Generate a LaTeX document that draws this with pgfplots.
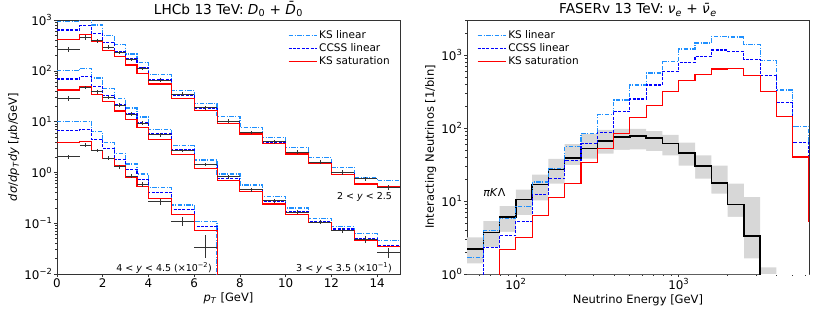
\documentclass[border=0pt]{standalone}
\usepackage{fontspec}
\setmainfont{DejaVu Sans}
\usepackage{pgfplots}
\pgfplotsset{compat=1.18}
\definecolor{ksblue}{RGB}{30,144,255}
\definecolor{ccssblue}{RGB}{0,0,255}
\definecolor{sred}{RGB}{255,0,0}
\definecolor{bandgray}{RGB}{215,215,215}
\tikzset{
  kslin/.style={draw=ksblue, color=ksblue, line width=1.2pt, dash pattern=on 4.5pt off 1.5pt on 1pt off 1.5pt},
  ccss/.style={draw=ccssblue, color=ccssblue, line width=1.1pt, dash pattern=on 3pt off 1.4pt},
  ksat/.style={draw=sred, color=sred, line width=1.1pt},
}
\pgfplotsset{
  every axis/.append style={
    axis line style={black!80, line width=0.8pt},
    tick style={black!80, line width=0.6pt},
    tick align=outside,
    xtick pos=bottom, ytick pos=left,
    major tick length=3pt, minor tick length=1.8pt,
    tick label style={font=\fontsize{11.9}{14}\selectfont, inner sep=1.5pt},
    label style={font=\fontsize{11.5}{14}\selectfont},
    title style={font=\fontsize{13.7}{16}\selectfont, anchor=base},
    legend cell align=left,
    legend image code/.code={\draw[#1] (0pt,0pt) -- (28pt,0pt);},
  }
}
\begin{document}
\begin{tikzpicture}
\path[use as bounding box] (0pt,0pt) rectangle (822pt,308pt);
% ---------------- LEFT ----------------
\begin{axis}[at={(57pt,34pt)}, anchor=south west, scale only axis,
  width=343pt, height=254pt,
  ymode=log, xmin=0, xmax=15, ymin=1e-2, ymax=1e3,
  xtick={0,2,4,6,8,10,12,14}, xticklabels={0,2,4,6,8,10,12,14},
  ytick={1e-2,1e-1,1,10,100,1000},
  yticklabels={10\textsuperscript{−2},10\textsuperscript{−1},10\textsuperscript{0},10\textsuperscript{1},10\textsuperscript{2},10\textsuperscript{3}},
  minor ytick={2e-2,3e-2,4e-2,5e-2,6e-2,7e-2,8e-2,9e-2,0.2,0.3,0.4,0.5,0.6,0.7,0.8,0.9,2,3,4,5,6,7,8,9,20,30,40,50,60,70,80,90,200,300,400,500,600,700,800,900},
  title={LHCb 13 TeV: \textit{D}\textsubscript{0} + \textit{D̄}\textsubscript{0}},
  xlabel={\textit{p}\textsubscript{\textit{T}} [GeV]},
  ylabel={\textit{dσ}/\textit{dp}\textsubscript{\textit{T}}\textit{dy} [\textit{μ}b/GeV]},
  legend style={draw=none, fill=none, at={(0.985,0.975)}, anchor=north east,
    font=\fontsize{10.5}{12}\selectfont, row sep=-0.5pt},
]
% group 1 : 2<y<2.5
\addplot[kslin, const plot] coordinates {(0,950)(1,1050)(1.5,797)(2,500)(2.5,325)(3,215)(3.5,145)(4,84)(5,40.6)(6,22.9)(7,12.5)(8,7.6)(9,4.95)(10,3.06)(11,1.98)(12,1.26)(13,0.78)(14,0.69)(15,0.69)};
\addlegendentry{KS linear}
\addplot[ccss, const plot] coordinates {(0,635)(1,773)(1.5,547)(2,364)(2.5,238)(3,176)(3.5,117)(4,66)(5,33.4)(6,18.3)(7,9.96)(8,6.05)(9,3.85)(10,2.45)(11,1.55)(12,0.98)(13,0.6)(14,0.53)(15,0.53)};
\addlegendentry{CCSS linear}
\addplot[ksat, const plot] coordinates {(0,410)(1,523)(1.5,386)(2,256)(2.5,190)(3,130)(3.5,89)(4,55)(5,28.8)(6,16.4)(7,9.25)(8,5.7)(9,3.7)(10,2.3)(11,1.47)(12,0.92)(13,0.59)(14,0.53)(15,0.53)};
\addlegendentry{KS saturation}
% group 2 : 3<y<3.5 (x0.1)
\addplot[kslin, const plot, forget plot] coordinates {(0,102)(1,112)(1.5,72)(2,45)(2.5,28)(3,18.5)(3.5,12.3)(4,7.05)(5,3.36)(6,1.75)(7,0.93)(8,0.565)(9,0.335)(10,0.2)(11,0.125)(12,0.085)(13,0.063)(14,0.045)(15,0.045)};
\addplot[ccss, const plot, forget plot] coordinates {(0,69)(1,77)(1.5,50)(2,33)(2.5,22)(3,14.5)(3.5,9.5)(4,5.7)(5,2.76)(6,1.46)(7,0.77)(8,0.46)(9,0.265)(10,0.167)(11,0.107)(12,0.077)(13,0.05)(14,0.036)(15,0.036)};
\addplot[ksat, const plot, forget plot] coordinates {(0,41.9)(1,48)(1.5,34.3)(2,24.5)(2.5,16.2)(3,11.1)(3.5,7.6)(4,4.5)(5,2.28)(6,1.21)(7,0.68)(8,0.42)(9,0.239)(10,0.15)(11,0.102)(12,0.073)(13,0.046)(14,0.035)(15,0.035)};
% group 3 : 4<y<4.5 (x0.01)
\addplot[kslin, const plot, forget plot] coordinates {(0,10)(1,10)(1.5,6.3)(2,3.85)(2.5,2.38)(3,1.46)(3.5,0.93)(4,0.5)(5,0.228)(6,0.108)(7,0.0001)(7.01,0.0001)};
\addplot[ccss, const plot, forget plot] coordinates {(0,6.6)(1,7.0)(1.5,4.5)(2,3.0)(2.5,1.8)(3,1.15)(3.5,0.72)(4,0.41)(5,0.185)(6,0.087)(7,0.0001)(7.01,0.0001)};
\addplot[ksat, const plot, forget plot] coordinates {(0,3.9)(1,4.1)(1.5,2.75)(2,1.9)(2.5,1.35)(3,0.8)(3.5,0.53)(4,0.31)(5,0.147)(6,0.073)(7,0.0001)(7.01,0.0001)};
% data
\addplot[draw=none, mark=none, forget plot,
  error bars/.cd, x dir=both, x explicit, y dir=both, y explicit,
  error bar style={draw=black!80, line width=0.8pt, solid}, error mark=none]
  table[x=x, y=y, x error=ex, y error=ey, row sep=\\] {
  x y ex ey \\
  0.5 260 0.5 30 \\ 1.25 452 0.25 45 \\ 1.75 395 0.25 35 \\ 2.25 295 0.25 25 \\
  2.75 231 0.25 18 \\ 3.25 166 0.25 13 \\ 3.75 112 0.25 9 \\ 4.5 66 0.5 5 \\
  5.5 35 0.5 2.8 \\ 6.5 18.8 0.5 1.5 \\ 7.5 10.3 0.5 0.8 \\ 8.5 6.1 0.5 0.5 \\
  9.5 4.05 0.5 0.35 \\ 10.5 2.52 0.5 0.22 \\ 11.5 1.6 0.5 0.14 \\ 12.5 1.0 0.5 0.1 \\
  13.5 0.75 0.5 0.08 \\ 14.5 0.51 0.5 0.06 \\
  0.5 28.8 0.5 3 \\ 1.25 47 0.25 4 \\ 1.75 38.5 0.25 3.2 \\ 2.25 30 0.25 2.5 \\
  2.75 21 0.25 1.8 \\ 3.25 14 0.25 1.2 \\ 3.75 9.4 0.25 0.9 \\ 4.5 5.5 0.5 0.45 \\
  5.5 2.7 0.5 0.22 \\ 6.5 1.44 0.5 0.12 \\ 7.5 0.82 0.5 0.07 \\ 8.5 0.46 0.5 0.04 \\
  9.5 0.275 0.5 0.025 \\ 10.5 0.164 0.5 0.015 \\ 11.5 0.106 0.5 0.011 \\ 12.5 0.073 0.5 0.008 \\
  13.5 0.048 0.5 0.007 \\ 14.5 0.027 0.5 0.006 \\
  0.5 2.04 0.5 0.2 \\ 1.25 3.46 0.25 0.3 \\ 1.75 2.7 0.25 0.22 \\ 2.25 1.92 0.25 0.16 \\
  2.75 1.3 0.25 0.11 \\ 3.25 0.85 0.25 0.08 \\ 3.75 0.58 0.25 0.06 \\ 4.5 0.265 0.5 0.035 \\
  5.5 0.11 0.5 0.02 \\
};
\addplot[draw=none, mark=none, forget plot,
  error bars/.cd, x dir=both, x explicit, y dir=both, y explicit,
  error bar style={draw=black!80, line width=0.8pt, solid}, error mark=none]
  table[x=x, y=y, x error=ex, y error plus=ep, y error minus=em, row sep=\\] {
  x y ex ep em \\
  6.5 0.0335 0.5 0.024 0.013 \\
};
\node[anchor=east, font=\fontsize{9.5}{11}\selectfont] at (axis cs:14.8,0.33) {2 < \textit{y} < 2.5};
\node[anchor=east, font=\fontsize{9.5}{11}\selectfont] at (axis cs:6.93,0.0129) {4 < \textit{y} < 4.5 (×10\textsuperscript{−2})};
\node[anchor=east, font=\fontsize{9.5}{11}\selectfont] at (axis cs:14.8,0.0129) {3 < \textit{y} < 3.5 (×10\textsuperscript{−1})};
\end{axis}
% ---------------- RIGHT ----------------
\begin{axis}[at={(467pt,34pt)}, anchor=south west, scale only axis,
  width=342pt, height=254pt,
  xmode=log, ymode=log, xmin=50.119, xmax=6309.6, ymin=1, ymax=3000,
  xtick={100,1000}, xticklabels={10\textsuperscript{2},10\textsuperscript{3}},
  minor xtick={60,70,80,90,200,300,400,500,600,700,800,900,2000,3000,4000,5000,6000},
  ytick={1,10,100,1000},
  yticklabels={10\textsuperscript{0},10\textsuperscript{1},10\textsuperscript{2},10\textsuperscript{3}},
  minor ytick={2,3,4,5,6,7,8,9,20,30,40,50,60,70,80,90,200,300,400,500,600,700,800,900,2000,3000},
  title={FASERv 13 TeV: \textit{ν}\textsubscript{\textit{e}} + \textit{ν̄}\textsubscript{\textit{e}}},
  xlabel={Neutrino Energy [GeV]},
  ylabel={Interacting Neutrinos [1/bin]},
  legend style={draw=none, fill=none, at={(0.02,0.975)}, anchor=north west,
    font=\fontsize{10.5}{12}\selectfont, row sep=-0.5pt},
]
% band: upper edge filled grey, lower edge filled white
\addplot[draw=none, fill=bandgray, const plot, forget plot] coordinates {
(50.119,3.17)(63.096,5.28)(79.433,8.47)(100,14.3)(125.89,22.9)(158.49,37.8)(199.53,60)(251.19,83)(316.23,94)(398.11,97)(501.19,97)(630.96,90)(794.33,80)(1000,63)(1258.9,42)(1584.9,30.5)(1995.3,17.3)(2511.9,11.3)(3162.3,1.23)(3981.1,0.01)(5011.9,0.01)(6309.6,0.01)} \closedcycle;
\addplot[draw=none, fill=white, const plot, forget plot] coordinates {
(50.119,1.4)(63.096,2.36)(79.433,3.78)(100,6.38)(125.89,10.2)(158.49,17.3)(199.53,31)(251.19,38)(316.23,44.5)(398.11,50)(501.19,51)(630.96,48)(794.33,42)(1000,30.5)(1258.9,20.2)(1584.9,12.6)(1995.3,6.05)(2511.9,1.64)(3162.3,0.01)(3981.1,0.01)(5011.9,0.01)(6309.6,0.01)} \closedcycle;
\addplot[black, line width=1.5pt, const plot, forget plot] coordinates {
(50.119,2.19)(63.096,3.71)(79.433,6.05)(100,10.4)(125.89,16.7)(158.49,26.8)(199.53,39)(251.19,51.9)(316.23,65.9)(398.11,74.8)(501.19,77.2)(630.96,72.4)(794.33,60.7)(1000,45.2)(1258.9,30)(1584.9,17.6)(1995.3,9.0)(2511.9,3.33)(3162.3,0.01)(3981.1,0.01)(6309.6,0.01)};
\addplot[kslin, const plot] coordinates {
(50.119,1.69)(63.096,3.9)(79.433,5.75)(100,8.47)(125.89,18.2)(158.49,27.7)(199.53,55.7)(251.19,83)(316.23,151)(398.11,241)(501.19,387)(630.96,564)(794.33,805)(1000,1200)(1258.9,1450)(1584.9,1766)(1995.3,1750)(2511.9,1373)(3162.3,831)(3981.1,331)(5011.9,105)(6309.6,60)(7000,60)};
\addlegendentry{KS linear}
\addplot[ccss, const plot] coordinates {
(50.119,0.1)(63.096,2.31)(79.433,3.4)(100,5.28)(125.89,12.2)(158.49,20.2)(199.53,35.9)(251.19,60.7)(316.23,87)(398.11,169)(501.19,249)(630.96,387)(794.33,588)(1000,789)(1258.9,953)(1584.9,1165)(1995.3,1115)(2511.9,875)(3162.3,519)(3981.1,220)(5011.9,62.7)(6309.6,30)(7000,30)};
\addlegendentry{CCSS linear}
\addplot[ksat, const plot] coordinates {
(50.119,0.1)(63.096,0.1)(79.433,2.17)(100,3.17)(125.89,6.38)(158.49,11)(199.53,17.3)(251.19,34)(316.23,52)(398.11,85)(501.19,137)(630.96,200)(794.33,317)(1000,443)(1258.9,535)(1584.9,640)(1995.3,650)(2511.9,519)(3162.3,317)(3981.1,144)(5011.9,40)(6309.6,5.2)(7000,5.2)};
\addlegendentry{KS saturation}
\node[anchor=west, font=\fontsize{11}{13}\selectfont] at (axis cs:60,13.2) {\textit{πK}Λ};
\end{axis}
\end{tikzpicture}
\end{document}
